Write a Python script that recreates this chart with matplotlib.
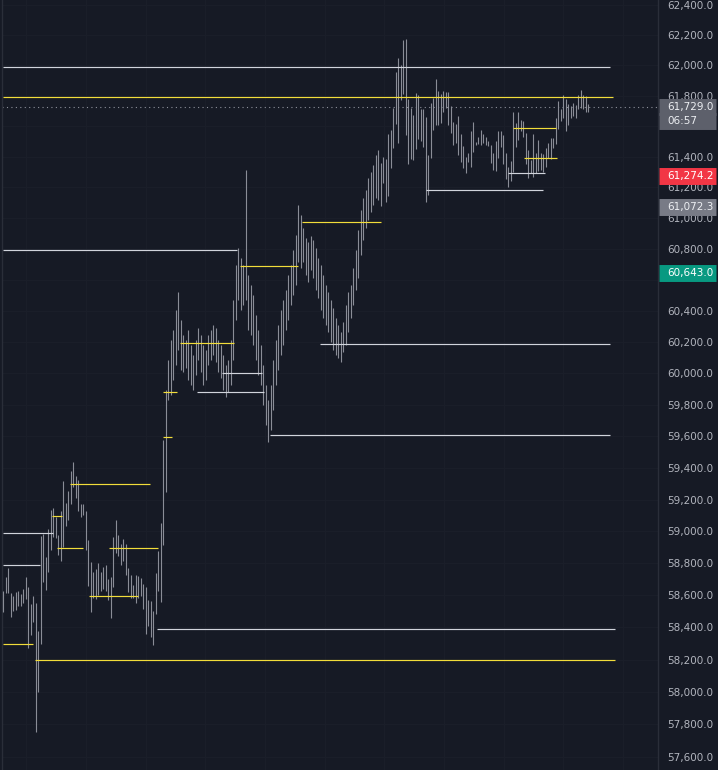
import matplotlib
matplotlib.use("Agg")
import matplotlib.pyplot as plt
import matplotlib.ticker as mticker
import matplotlib.transforms as mtrans
import numpy as np

# bar highs / lows (one entry per bar, left to right)
highs = [58627, 58715, 58771, 58615, 58596, 58621, 58627, 58608, 58640, 58715,
         58652, 58546, 58596, 58552, 58378, 58971, 58984, 58839, 59015, 59134,
         59146, 59090, 58977, 59128, 59317, 59178, 59254, 59380, 59437, 59348,
         59323, 59172, 59172, 59128, 58946, 58808, 58746, 58765, 58802, 58746,
         58777, 58790, 58702, 58715, 58965, 59071, 58977, 58921, 58952, 58921,
         58771, 58727, 58665, 58727, 58721, 58708, 58671, 58652, 58571, 58565,
         58503, 58740, 58877, 59053, 59577, 59895,
         60086, 60214, 60278, 60407, 60523, 60343, 60246, 60214, 60278, 60182,
         60118, 60214, 60291, 60246, 60182, 60150, 60246, 60278, 60311, 60291,
         60214, 60182, 60118, 60054, 60086, 60214, 60471, 60697, 60807, 60742,
         60697, 61314, 60632, 60568, 60504, 60375, 60278, 60182, 60054, 59926,
         59831, 59926, 60086, 60214, 60311, 60407, 60471, 60536, 60632, 60697,
         60794, 60891, 61085, 61020, 60936, 60872, 60846, 60885, 60859, 60807,
         60742, 60697, 60632, 60568, 60523, 60471, 60420, 60356, 60311, 60265,
         60330, 60439, 60523, 60568, 60678, 60794, 60923, 61053, 61131, 61183,
         61261, 61301, 61347, 61412, 61444,
         61359, 61398, 61385, 61549, 61575, 61719, 61957, 62049, 62003, 62168,
         62175, 61779, 61719, 61674, 61818, 61805, 61713, 61713, 61661, 61412,
         61753, 61785, 61910, 61831, 61812, 61831, 61825, 61825, 61732, 61628,
         61615, 61667, 61549, 61470, 61398, 61425, 61569, 61628, 61497, 61529,
         61575, 61549, 61529, 61503, 61477, 61425, 61503, 61569, 61569, 61542,
         61425, 61333, 61372, 61693, 61621, 61693, 61641, 61634, 61556, 61444,
         61379, 61549, 61425, 61510, 61425, 61418, 61457, 61490, 61523, 61523,
         61654, 61766, 61713, 61805, 61779, 61746, 61732, 61753, 61739, 61805,
         61838, 61805, 61799, 61746]
lows = [58497, 58615, 58615, 58466, 58503, 58509, 58534, 58534, 58552, 58577,
        58272, 58353, 58434, 57754, 58000, 58297, 58683, 58633, 58746, 58883,
        58965, 58959, 58852, 58815, 58902, 59034, 59071, 59172, 59279, 59210,
        59128, 59090, 59103, 58883, 58658, 58497, 58583, 58577, 58602, 58627,
        58640, 58627, 58571, 58459, 58652, 58865, 58846, 58790, 58815, 58727,
        58621, 58583, 58583, 58552, 58583, 58596, 58515, 58359, 58409, 58340,
        58291, 58484, 58627, 58558, 58915, 59247,
        59831, 59863, 59958, 60054, 60150, 60022, 60009, 60035, 59958, 59926,
        59895, 59990, 60086, 60009, 59926, 59958, 60054, 60086, 60118, 60073,
        60009, 59971, 59895, 59850, 59882, 59926, 60086, 60343, 60471, 60407,
        60439, 60471, 60278, 60246, 60182, 60086, 59990, 59926, 59799, 59672,
        59564, 59640, 59767, 59926, 60022, 60118, 60182, 60278, 60343, 60439,
        60504, 60568, 60716, 60678, 60716, 60632, 60587, 60665, 60613, 60536,
        60484, 60407, 60356, 60311, 60265, 60201, 60150, 60118, 60099, 60073,
        60137, 60182, 60265, 60356, 60439, 60536, 60613, 60762, 60859, 60936,
        60988, 61040, 61085, 61131, 61118,
        61079, 61229, 61105, 61144, 61327, 61457, 61615, 61490, 61772, 61812,
        61542, 61353, 61385, 61379, 61451, 61516, 61503, 61464, 61105, 61150,
        61392, 61575, 61608, 61608, 61621, 61693, 61719, 61608, 61556, 61477,
        61490, 61412, 61366, 61327, 61294, 61366, 61333, 61431, 61477, 61484,
        61477, 61490, 61477, 61470, 61359, 61314, 61307, 61392, 61464, 61353,
        61255, 61203, 61242, 61301, 61464, 61510, 61569, 61529, 61353, 61261,
        61294, 61268, 61294, 61307, 61314, 61301, 61333, 61392, 61385, 61457,
        61484, 61582, 61634, 61654, 61569, 61608, 61654, 61667, 61654, 61713,
        61719, 61713, 61693, 61693]

# horizontal levels: price, first bar, last bar, colour kind
lvl_price = [61990, 61790, 60794, 60690, 60975, 61183, 61294, 61392, 61588,
             60188, 60195, 60003, 59882, 59882, 59596, 59609, 59298, 59096,
             58990, 58896, 58896, 58596, 58790, 58297, 58198, 58390]
lvl_start = [0, 0, 0, 94.8, 119.6, 169, 202, 208.4, 204,
             126.8, 70.8, 87.6, 77.6, 64, 64, 106.8, 26.8, 19.6,
             0, 21.6, 42.4, 34.4, 0, 0, 12.8, 61.6]
lvl_end = [242.8, 244, 93.6, 118, 151.2, 216, 216.8, 221.6, 221.2,
           242.8, 92.4, 103.6, 104.4, 69.6, 67.6, 242.8, 58.8, 23.6,
           20, 32, 62, 54, 14.8, 12, 244.8, 244.8]
lvl_kind = ["w", "y", "w", "y", "y", "w", "w", "y", "y",
            "w", "y", "w", "w", "y", "y", "w", "y", "y",
            "w", "y", "y", "y", "w", "y", "y", "w"]

last_price = 61729.0
countdown = "06:57"
tag_price = [61729.0, 61274.2, 61072.3, 60643.0]
tag_color = ["#5d606b", "#f23645", "#787b86", "#089981"]

price_ticks = list(range(57600, 62401, 200))
hidden_ticks = [61600, 60600]  # fully covered by the price tags
grid_x = [9.2, 33.1, 57.0, 80.8, 104.7, 128.6, 152.5, 176.4, 200.2, 224.1, 248.0]

BG = "#161a25"
kind_color = {"w": "#d1d4dc", "y": "#f2dd3a"}

fig = plt.figure(figsize=(7.18, 7.70), dpi=100, facecolor=BG)
ax = fig.add_axes([2 / 718, 0, 656 / 718, 1])
ax.set_facecolor(BG)

x = np.arange(len(highs))
ax.vlines(x, lows, highs, color="#8a8d97", lw=0.8, zorder=3)

for p, s, e, k in zip(lvl_price, lvl_start, lvl_end, lvl_kind):
    ax.hlines(p, s, e, color=kind_color[k], lw=0.85, zorder=4)

ax.axhline(last_price, color="#8e919b", lw=0.8, ls=(0, (1, 3)), zorder=2)

def fmt(v, _):
    if int(round(v)) in hidden_ticks:
        return ""
    return f"{v:,.1f}"

ax.set_yscale("log")
ax.set_ylim(57520, 62433)
ax.set_xlim(-0.4, 262)
ax.yaxis.set_major_locator(mticker.FixedLocator(price_ticks))
ax.yaxis.set_minor_locator(mticker.NullLocator())
ax.yaxis.set_major_formatter(mticker.FuncFormatter(fmt))
ax.yaxis.tick_right()
ax.tick_params(axis="y", length=0, pad=6.5, labelsize=7.5, labelcolor="#b2b5be")
ax.set_xticks(grid_x)
ax.tick_params(axis="x", length=0, labelbottom=False)
ax.grid(True, color="#1b1f2a", lw=0.7, zorder=0)

for side in ["top", "bottom"]:
    ax.spines[side].set_visible(False)
for side in ["left", "right"]:
    ax.spines[side].set_color("#2a2e39")
    ax.spines[side].set_linewidth(1.0)

# price tags on the scale
blend = mtrans.blended_transform_factory(ax.transAxes, ax.transData)
below = mtrans.offset_copy(blend, fig=fig, x=0, y=-14, units="dots")
for p, c in zip(tag_price, tag_color):
    ax.plot([1.0015, 1.0884], [p, p], transform=blend, color=c, lw=12.2,
            solid_capstyle="butt", clip_on=False, zorder=6)
    txt = "#ffffff" if c in ("#f23645", "#089981") else "#eceef2"
    ax.text(1.0137, p, f"{p:,.1f}", transform=blend, ha="left", va="center",
            fontsize=7.5, color=txt, clip_on=False, zorder=7)
ax.plot([1.0015, 1.0884], [last_price, last_price], transform=below,
        color=tag_color[0], lw=12.2, solid_capstyle="butt", clip_on=False, zorder=6)
ax.text(1.0137, last_price, countdown, transform=below, ha="left", va="center",
        fontsize=7.5, color="#eceef2", clip_on=False, zorder=7)

fig.savefig("out.png", dpi=100, facecolor=BG)
